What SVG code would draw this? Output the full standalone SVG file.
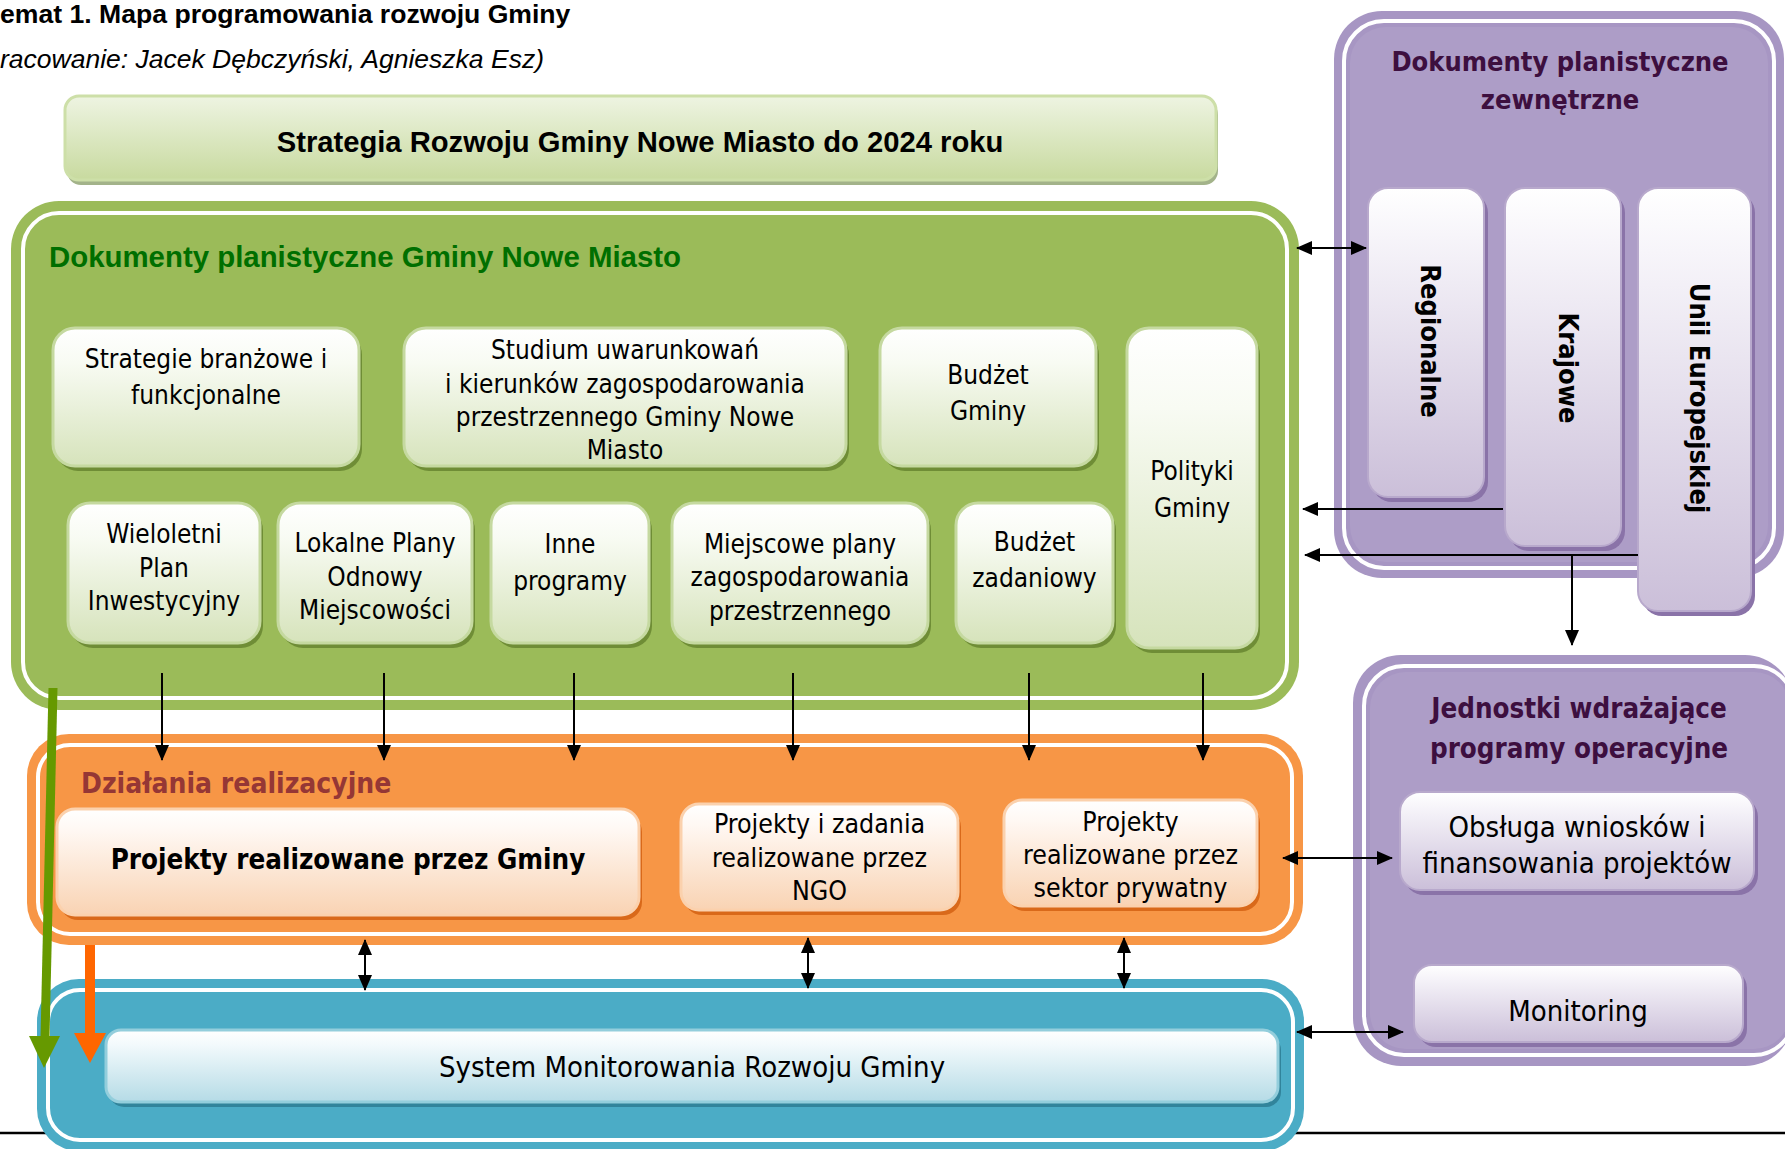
<svg xmlns="http://www.w3.org/2000/svg" width="1785" height="1149" viewBox="0 0 1785 1149">
<defs>
<linearGradient id="gStrat" x1="0" y1="0" x2="0" y2="1"><stop offset="0" stop-color="#eef4e2"/><stop offset="1" stop-color="#c8da9f"/></linearGradient>
<linearGradient id="gGreen" x1="0" y1="0" x2="0" y2="1"><stop offset="0" stop-color="#ffffff"/><stop offset="0.25" stop-color="#f8fbf3"/><stop offset="1" stop-color="#d6e3bb"/></linearGradient>
<linearGradient id="gOrange" x1="0" y1="0" x2="0" y2="1"><stop offset="0" stop-color="#ffffff"/><stop offset="0.2" stop-color="#fff8f3"/><stop offset="1" stop-color="#f9d3b3"/></linearGradient>
<linearGradient id="gBlue" x1="0" y1="0" x2="0" y2="1"><stop offset="0" stop-color="#ffffff"/><stop offset="0.2" stop-color="#f3fafc"/><stop offset="1" stop-color="#b5dbe6"/></linearGradient>
<linearGradient id="gPurple" x1="0" y1="0" x2="0" y2="1"><stop offset="0" stop-color="#ffffff"/><stop offset="0.15" stop-color="#f7f5fa"/><stop offset="1" stop-color="#cbbfd9"/></linearGradient>
<marker id="arr" viewBox="0 0 16 14" refX="15" refY="7" markerWidth="16" markerHeight="14" markerUnits="userSpaceOnUse" orient="auto-start-reverse"><path d="M0,0 L16,7 L0,14 z" fill="#000"/></marker>
</defs>
<style>
.hd{font-family:"Liberation Sans",Arial,sans-serif;font-weight:bold}
.tx{font-family:"DejaVu Sans Condensed","DejaVu Sans",sans-serif;font-stretch:condensed;fill:#000;text-anchor:middle}
.b{font-weight:bold}
.ptitle{fill:#3d0f3f}
.otitle{fill:#953735;text-anchor:start}
.gbox{fill:url(#gGreen);stroke:#c5d9a0;stroke-width:3}
.gsh{fill:#6f8d36}
.obox{fill:url(#gOrange);stroke:#fbd1ad;stroke-width:3}
.osh{fill:#d9691a}
.bbox{fill:url(#gBlue);stroke:#93cedc;stroke-width:3}
.bsh{fill:#31849b}
.pbox{fill:url(#gPurple);stroke:#b8a9cc;stroke-width:2}
.psh{fill:#8a73a8}
.ring{fill:none;stroke:#ffffff;stroke-width:4}
.con{stroke:#000;stroke-width:2;fill:none}
</style>

<line x1="0" y1="1133" x2="1785" y2="1133" stroke="#000" stroke-width="2.5"/>

<text class="hd" x="0" y="23" font-size="26.6">emat 1. Mapa programowania rozwoju Gminy</text>
<text x="0" y="68" font-size="26.5" font-family="'Liberation Sans',Arial,sans-serif" font-style="italic">racowanie: Jacek Dębczyński, Agnieszka Esz)</text>

<g id="strategia">
<rect x="67" y="101" width="1151" height="84" rx="14" fill="#a3b38a"/>
<rect x="65" y="96" width="1151" height="84" rx="14" fill="url(#gStrat)" stroke="#cddfa8" stroke-width="3"/>
<text class="hd" x="640" y="152" font-size="29.2" text-anchor="middle">Strategia Rozwoju Gminy Nowe Miasto do 2024 roku</text>
</g>

<g id="dok-gminy">
<rect x="11" y="201" width="1288" height="509" rx="48" fill="#9bbb59"/>
<rect x="23" y="213" width="1264" height="485" rx="36" class="ring"/>
<text class="hd" x="49" y="267" font-size="29.4" fill="#006f00">Dokumenty planistyczne Gminy Nowe Miasto</text>
</g>

<g id="strategie-branzowe">
<rect x="56" y="333" width="306" height="138" rx="22" class="gsh"/>
<rect x="53" y="328" width="306" height="138" rx="22" class="gbox"/>
<text class="tx" font-size="26"><tspan x="206" y="368">Strategie branżowe i</tspan><tspan x="206" y="404">funkcjonalne</tspan></text>
</g>
<g id="studium">
<rect x="407" y="333" width="442" height="138" rx="22" class="gsh"/>
<rect x="404" y="328" width="442" height="138" rx="22" class="gbox"/>
<text class="tx" font-size="26"><tspan x="625" y="359">Studium uwarunkowań</tspan><tspan x="625" y="393">i kierunków zagospodarowania</tspan><tspan x="625" y="426">przestrzennego Gminy Nowe</tspan><tspan x="625" y="459">Miasto</tspan></text>
</g>
<g id="budzet-gminy">
<rect x="883" y="333" width="216" height="138" rx="22" class="gsh"/>
<rect x="880" y="328" width="216" height="138" rx="22" class="gbox"/>
<text class="tx" font-size="26"><tspan x="988" y="384">Budżet</tspan><tspan x="988" y="420">Gminy</tspan></text>
</g>
<g id="polityki">
<rect x="1130" y="333" width="130" height="320" rx="22" class="gsh"/>
<rect x="1127" y="328" width="130" height="320" rx="22" class="gbox"/>
<text class="tx" font-size="26"><tspan x="1192" y="480">Polityki</tspan><tspan x="1192" y="517">Gminy</tspan></text>
</g>
<g id="wpi">
<rect x="71" y="508" width="192" height="140" rx="22" class="gsh"/>
<rect x="68" y="503" width="192" height="140" rx="22" class="gbox"/>
<text class="tx" font-size="26"><tspan x="164" y="543">Wieloletni</tspan><tspan x="164" y="577">Plan</tspan><tspan x="164" y="610">Inwestycyjny</tspan></text>
</g>
<g id="lpom">
<rect x="281" y="508" width="194" height="140" rx="22" class="gsh"/>
<rect x="278" y="503" width="194" height="140" rx="22" class="gbox"/>
<text class="tx" font-size="26"><tspan x="375" y="552">Lokalne Plany</tspan><tspan x="375" y="586">Odnowy</tspan><tspan x="375" y="619">Miejscowości</tspan></text>
</g>
<g id="inne">
<rect x="494" y="508" width="158" height="140" rx="22" class="gsh"/>
<rect x="491" y="503" width="158" height="140" rx="22" class="gbox"/>
<text class="tx" font-size="26"><tspan x="570" y="553">Inne</tspan><tspan x="570" y="590">programy</tspan></text>
</g>
<g id="mpzp">
<rect x="675" y="508" width="256" height="140" rx="22" class="gsh"/>
<rect x="672" y="503" width="256" height="140" rx="22" class="gbox"/>
<text class="tx" font-size="26"><tspan x="800" y="553">Miejscowe plany</tspan><tspan x="800" y="586">zagospodarowania</tspan><tspan x="800" y="620">przestrzennego</tspan></text>
</g>
<g id="budzet-zadaniowy">
<rect x="959" y="508" width="157" height="140" rx="22" class="gsh"/>
<rect x="956" y="503" width="157" height="140" rx="22" class="gbox"/>
<text class="tx" font-size="26"><tspan x="1034.5" y="551">Budżet</tspan><tspan x="1034.5" y="587">zadaniowy</tspan></text>
</g>

<g id="dzialania">
<rect x="27" y="734" width="1276" height="211" rx="42" fill="#f79646"/>
<rect x="38" y="745" width="1254" height="189" rx="32" class="ring"/>
<text class="tx b otitle" x="81" y="793" font-size="28">Działania realizacyjne</text>
</g>
<g id="proj-gminy">
<rect x="60" y="814" width="582" height="106" rx="18" class="osh"/>
<rect x="57" y="809" width="582" height="106" rx="18" class="obox"/>
<text class="tx b" x="348" y="869" font-size="27.5">Projekty realizowane przez Gminy</text>
</g>
<g id="proj-ngo">
<rect x="684" y="809" width="277" height="106" rx="18" class="osh"/>
<rect x="681" y="804" width="277" height="106" rx="18" class="obox"/>
<text class="tx" font-size="26.5"><tspan x="819.5" y="833">Projekty i zadania</tspan><tspan x="819.5" y="867">realizowane przez</tspan><tspan x="819.5" y="900">NGO</tspan></text>
</g>
<g id="proj-prywatne">
<rect x="1007" y="805" width="253" height="106" rx="18" class="osh"/>
<rect x="1004" y="800" width="253" height="106" rx="18" class="obox"/>
<text class="tx" font-size="26.5"><tspan x="1130.5" y="831">Projekty</tspan><tspan x="1130.5" y="864">realizowane przez</tspan><tspan x="1130.5" y="897">sektor prywatny</tspan></text>
</g>

<g id="monitoring-system">
<rect x="37" y="979" width="1267" height="172" rx="42" fill="#4bacc6"/>
<rect x="48" y="990" width="1245" height="150" rx="32" class="ring"/>
<rect x="109" y="1035" width="1172" height="72" rx="15" class="bsh"/>
<rect x="106" y="1030" width="1172" height="72" rx="15" class="bbox"/>
<text class="tx" x="692" y="1077" font-size="29">System Monitorowania Rozwoju Gminy</text>
</g>

<g id="dok-zewnetrzne">
<rect x="1334" y="11" width="450" height="567" rx="48" fill="#a796c3"/>
<rect x="1344" y="21" width="430" height="547" rx="40" class="ring"/>
<rect x="1350" y="27" width="418" height="535" rx="36" fill="#ad9dc7"/>
<text class="tx b ptitle" font-size="27"><tspan x="1560" y="71">Dokumenty planistyczne</tspan><tspan x="1560" y="109">zewnętrzne</tspan></text>
</g>
<g id="regionalne">
<rect x="1372" y="193" width="116" height="309" rx="20" class="psh"/>
<rect x="1368" y="188" width="116" height="309" rx="20" class="pbox"/>
<text class="tx b" font-size="27" transform="translate(1431,341) rotate(90)" x="0" y="10">Regionalne</text>
</g>
<g id="krajowe">
<rect x="1509" y="193" width="116" height="358" rx="20" class="psh"/>
<rect x="1505" y="188" width="116" height="358" rx="20" class="pbox"/>
<text class="tx b" font-size="27" transform="translate(1569,368) rotate(90)" x="0" y="10">Krajowe</text>
</g>
<g id="unii">
<rect x="1642" y="193" width="113" height="423" rx="20" class="psh"/>
<rect x="1638" y="188" width="113" height="423" rx="20" class="pbox"/>
<text class="tx b" font-size="27" transform="translate(1700,398) rotate(90)" x="0" y="10">Unii Europejskiej</text>
</g>

<g id="jednostki">
<rect x="1353" y="655" width="440" height="411" rx="48" fill="#a796c3"/>
<rect x="1364" y="666" width="430" height="389" rx="40" class="ring"/>
<rect x="1370" y="672" width="420" height="377" rx="36" fill="#ad9dc7"/>
<text class="tx b ptitle" font-size="27.5"><tspan x="1579" y="718">Jednostki wdrażające</tspan><tspan x="1579" y="758">programy operacyjne</tspan></text>
</g>
<g id="obsluga">
<rect x="1404" y="797" width="354" height="98" rx="20" class="psh"/>
<rect x="1400" y="792" width="354" height="98" rx="20" class="pbox"/>
<text class="tx" font-size="29"><tspan x="1577" y="837">Obsługa wniosków i</tspan><tspan x="1577" y="873">finansowania projektów</tspan></text>
</g>
<g id="monitoring">
<rect x="1418" y="970" width="329" height="77" rx="18" class="psh"/>
<rect x="1414" y="965" width="329" height="77" rx="18" class="pbox"/>
<text class="tx" x="1578" y="1021" font-size="29">Monitoring</text>
</g>

<g id="connectors">
<line class="con" x1="162" y1="673" x2="162" y2="760" marker-end="url(#arr)"/>
<line class="con" x1="384" y1="673" x2="384" y2="760" marker-end="url(#arr)"/>
<line class="con" x1="574" y1="673" x2="574" y2="760" marker-end="url(#arr)"/>
<line class="con" x1="793" y1="673" x2="793" y2="760" marker-end="url(#arr)"/>
<line class="con" x1="1029" y1="673" x2="1029" y2="760" marker-end="url(#arr)"/>
<line class="con" x1="1203" y1="673" x2="1203" y2="760" marker-end="url(#arr)"/>
<line class="con" x1="365" y1="940" x2="365" y2="990" marker-start="url(#arr)" marker-end="url(#arr)"/>
<line class="con" x1="808" y1="938" x2="808" y2="988" marker-start="url(#arr)" marker-end="url(#arr)"/>
<line class="con" x1="1124" y1="938" x2="1124" y2="988" marker-start="url(#arr)" marker-end="url(#arr)"/>
<line class="con" x1="1297" y1="248" x2="1366" y2="248" marker-start="url(#arr)" marker-end="url(#arr)"/>
<line class="con" x1="1503" y1="509" x2="1303" y2="509" marker-end="url(#arr)"/>
<line class="con" x1="1638" y1="555" x2="1305" y2="555" marker-end="url(#arr)"/>
<line class="con" x1="1572" y1="555" x2="1572" y2="645" marker-end="url(#arr)"/>
<line class="con" x1="1283" y1="858" x2="1392" y2="858" marker-start="url(#arr)" marker-end="url(#arr)"/>
<line class="con" x1="1297" y1="1032" x2="1403" y2="1032" marker-start="url(#arr)" marker-end="url(#arr)"/>
<line x1="53" y1="688" x2="45" y2="1038" stroke="#669900" stroke-width="9"/>
<polygon points="29,1036 60,1036 44,1068" fill="#669900"/>
<line x1="90" y1="945" x2="90" y2="1035" stroke="#ff6600" stroke-width="10"/>
<polygon points="74,1033 106,1033 90,1063" fill="#ff6600"/>
</g>
</svg>
